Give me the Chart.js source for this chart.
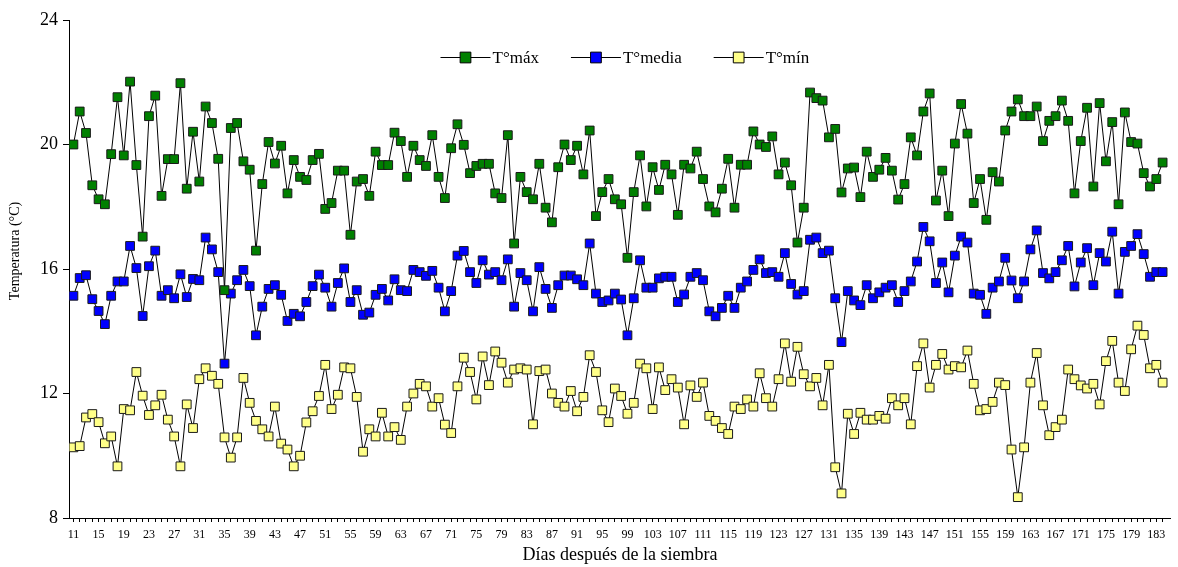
<!DOCTYPE html>
<html>
<head>
<meta charset="utf-8">
<script src="https://cdn.jsdelivr.net/npm/chart.js@4.4.0/dist/chart.umd.min.js"></script>
<style>
  html, body { margin: 0; padding: 0; background: #fff; }
</style>
</head>
<body>
<canvas id="chart" width="1178" height="567"></canvas>
<script>
// días después de la siembra
var days = [
  11, 12, 13, 14, 15, 16, 17, 18, 19, 20,
  21, 22, 23, 24, 25, 26, 27, 28, 29, 30,
  31, 32, 33, 34, 35, 36, 37, 38, 39, 40,
  41, 42, 43, 44, 45, 46, 47, 48, 49, 50,
  51, 52, 53, 54, 55, 56, 57, 58, 59, 60,
  61, 62, 63, 64, 65, 66, 67, 68, 69, 70,
  71, 72, 73, 74, 75, 76, 77, 78, 79, 80,
  81, 82, 83, 84, 85, 86, 87, 88, 89, 90,
  91, 92, 93, 94, 95, 96, 97, 98, 99, 100,
  101, 102, 103, 104, 105, 106, 107, 108, 109, 110,
  111, 112, 113, 114, 115, 116, 117, 118, 119, 120,
  121, 122, 123, 124, 125, 126, 127, 128, 129, 130,
  131, 132, 133, 134, 135, 136, 137, 138, 139, 140,
  141, 142, 143, 144, 145, 146, 147, 148, 149, 150,
  151, 152, 153, 154, 155, 156, 157, 158, 159, 160,
  161, 162, 163, 164, 165, 166, 167, 168, 169, 170,
  171, 172, 173, 174, 175, 176, 177, 178, 179, 180,
  181, 182, 183, 184
];
var xTickLabels = [11, 15, 19, 23, 27, 31, 35, 39, 43, 47, 51, 55, 59, 63, 67, 71, 75, 79, 83, 87, 91, 95,
  99, 103, 107, 111, 115, 119, 123, 127, 131, 135, 139, 143, 147, 151, 155, 159, 163, 167, 171, 175, 179, 183];
var yTicks = [8, 12, 16, 20, 24];

var tMax = [
  20.0, 21.06, 20.37, 18.69, 18.24, 18.08, 19.69, 21.52, 19.65, 22.02,
  19.34, 17.04, 20.91, 21.57, 18.35, 19.53, 19.53, 21.97, 18.58, 20.41,
  18.81, 21.22, 20.69, 19.54, 15.32, 20.53, 20.69, 19.46, 19.19, 16.59,
  18.73, 20.08, 19.39, 19.96, 18.43, 19.50, 18.96, 18.86, 19.50, 19.70,
  17.93, 18.12, 19.16, 19.16, 17.10, 18.81, 18.89, 18.35, 19.77, 19.34,
  19.34, 20.38, 20.11, 18.96, 19.96, 19.50, 19.31, 20.30, 18.96, 18.28,
  19.88, 20.65, 19.99, 19.08, 19.31, 19.38, 19.38, 18.43, 18.28, 20.30,
  16.82, 18.96, 18.47, 18.24, 19.38, 17.97, 17.50, 19.27, 20.00, 19.50,
  19.96, 19.04, 20.45, 17.70, 18.47, 18.89, 18.24, 18.08, 16.36, 18.47,
  19.65, 18.01, 19.27, 18.54, 19.35, 19.04, 17.74, 19.35, 19.23, 19.77,
  18.89, 18.01, 17.82, 18.58, 19.54, 17.97, 19.35, 19.35, 20.42, 20.00,
  19.92, 20.26, 19.04, 19.42, 18.69, 16.85, 17.97, 21.67, 21.49, 21.41,
  20.23, 20.50, 18.46, 19.23, 19.26, 18.31, 19.77, 18.96, 19.19, 19.57,
  19.16, 18.23, 18.73, 20.23, 19.65, 21.06, 21.64, 18.20, 19.16, 17.70,
  20.03, 21.30, 20.35, 18.12, 18.89, 17.58, 19.11, 18.81, 20.45, 21.06,
  21.45, 20.91, 20.91, 21.22, 20.11, 20.76, 20.91, 21.41, 20.76, 18.43,
  20.11, 21.18, 18.65, 21.33, 19.46, 20.72, 18.08, 21.03, 20.08, 20.03,
  19.08, 18.65, 18.89, 19.42
];
var tMedia = [
  15.14, 15.71, 15.80, 15.03, 14.65, 14.23, 15.14, 15.60, 15.60, 16.74,
  16.03, 14.49, 16.09, 16.59, 15.14, 15.32, 15.06, 15.83, 15.10, 15.68,
  15.64, 17.01, 16.63, 15.90, 12.96, 15.21, 15.64, 15.97, 15.45, 13.87,
  14.79, 15.36, 15.48, 15.17, 14.33, 14.56, 14.48, 14.94, 15.45, 15.82,
  15.40, 14.79, 15.55, 16.02, 14.94, 15.32, 14.53, 14.60, 15.17, 15.36,
  14.99, 15.67, 15.32, 15.29, 15.97, 15.90, 15.78, 15.94, 15.40, 14.64,
  15.29, 16.43, 16.58, 15.90, 15.55, 16.28, 15.82, 15.90, 15.64, 16.31,
  14.79, 15.87, 15.64, 14.64, 16.06, 15.36, 14.75, 15.48, 15.79, 15.79,
  15.67, 15.48, 16.82, 15.21, 14.94, 14.99, 15.21, 15.02, 13.87, 15.06,
  16.28, 15.40, 15.40, 15.70, 15.75, 15.75, 14.94, 15.18, 15.75, 15.87,
  15.64, 14.64, 14.48, 14.75, 15.14, 14.75, 15.40, 15.60, 15.97, 16.31,
  15.87, 15.90, 15.75, 16.51, 15.52, 15.18, 15.29, 16.94, 17.01, 16.51,
  16.59, 15.06, 13.65, 15.29, 14.99, 14.84, 15.48, 15.06, 15.25, 15.40,
  15.48, 14.94, 15.29, 15.60, 16.24, 17.35, 16.89, 15.55, 16.21, 15.25,
  16.43, 17.04, 16.85, 15.21, 15.17, 14.56, 15.40, 15.60, 16.36, 15.63,
  15.06, 15.60, 16.63, 17.24, 15.87, 15.70, 15.90, 16.28, 16.74, 15.44,
  16.21, 16.67, 15.48, 16.51, 16.24, 17.20, 15.21, 16.55, 16.74, 17.12,
  16.48, 15.75, 15.90, 15.90
];
var tMin = [
  10.27, 10.31, 11.23, 11.34, 11.08, 10.40, 10.62, 9.66, 11.50, 11.46,
  12.69, 11.93, 11.31, 11.62, 11.96, 11.16, 10.62, 9.66, 11.65, 10.89,
  12.46, 12.81, 12.57, 12.31, 10.59, 9.94, 10.59, 12.50, 11.70, 11.12,
  10.85, 10.62, 11.58, 10.39, 10.20, 9.66, 10.00, 11.07, 11.43, 11.92,
  12.92, 11.50, 11.96, 12.84, 12.81, 11.89, 10.13, 10.85, 10.62, 11.38,
  10.62, 10.92, 10.51, 11.58, 12.00, 12.31, 12.23, 11.58, 11.85, 11.00,
  10.73, 12.23, 13.15, 12.69, 11.81, 13.19, 12.27, 13.35, 12.99, 12.35,
  12.77, 12.81, 12.77, 11.01, 12.72, 12.77, 12.00, 11.70, 11.58, 12.08,
  11.43, 11.89, 13.23, 12.69, 11.46, 11.08, 12.16, 11.92, 11.35, 11.70,
  12.96, 12.81, 11.50, 12.84, 12.11, 12.46, 12.19, 11.01, 12.26, 11.89,
  12.35, 11.28, 11.12, 10.89, 10.70, 11.58, 11.50, 11.81, 11.58, 12.65,
  11.85, 11.58, 12.46, 13.61, 12.38, 13.50, 12.62, 12.23, 12.50, 11.62,
  12.92, 9.63, 8.79, 11.35, 10.70, 11.38, 11.16, 11.16, 11.28, 11.19,
  11.85, 11.62, 11.85, 11.01, 12.88, 13.61, 12.19, 12.92, 13.27, 12.77,
  12.88, 12.84, 13.38, 12.31, 11.46, 11.50, 11.73, 12.35, 12.27, 10.20,
  8.67, 10.27, 12.35, 13.30, 11.62, 10.66, 10.92, 11.16, 12.77, 12.46,
  12.26, 12.16, 12.31, 11.65, 13.04, 13.69, 12.35, 12.08, 13.42, 14.18,
  13.88, 12.81, 12.92, 12.35
];
var seriesNames = ['T°máx', 'T°media', 'T°mín'];
var seriesColors = ['#008000', '#0000ff', '#ffff88'];

var serif = '"Liberation Serif", "Times New Roman", serif';

function toPoints(values) {
  return days.map(function (d, i) { return { x: d, y: values[i] }; });
}

// leyenda dentro del área del gráfico (línea - marcador - texto)
var insideLegend = {
  id: 'insideLegend',
  afterDraw(chart) {
    var ctx = chart.ctx;
    var area = chart.chartArea;
    ctx.save();
    ctx.font = '17px ' + serif;
    var lineLen = 50, gapText = 2, gapItem = 32;
    var widths = chart.data.datasets.map(function (ds) {
      return lineLen + gapText + ctx.measureText(ds.label).width;
    });
    var total = widths.reduce(function (a, b) { return a + b; }, 0) + gapItem * (widths.length - 1);
    var x = (area.left + area.right) / 2 + 5 - total / 2;
    var y = area.top + 37;
    chart.data.datasets.forEach(function (ds, i) {
      ctx.strokeStyle = '#000';
      ctx.lineWidth = 1;
      ctx.beginPath();
      ctx.moveTo(x, y + 0.5);
      ctx.lineTo(x + lineLen, y + 0.5);
      ctx.stroke();
      ctx.fillStyle = ds.pointBackgroundColor;
      ctx.strokeStyle = '#000';
      Chart.helpers.drawPoint(ctx, { pointStyle: 'rect', radius: 7.6, borderWidth: 1 }, x + lineLen / 2, y + 0.5);
      ctx.fillStyle = '#000';
      ctx.textAlign = 'left';
      ctx.textBaseline = 'middle';
      ctx.fillText(ds.label, x + lineLen + gapText, y + 2);
      x += widths[i] + gapItem;
    });
    ctx.restore();
  }
};

// título del eje Y (algo por encima del centro, como en el original)
var yTitle = {
  id: 'yTitle',
  afterDraw(chart) {
    var ctx = chart.ctx;
    var area = chart.chartArea;
    ctx.save();
    ctx.translate(15, area.top + 231);
    ctx.rotate(-Math.PI / 2);
    ctx.font = '14px ' + serif;
    ctx.fillStyle = '#000';
    ctx.textAlign = 'center';
    ctx.textBaseline = 'middle';
    ctx.fillText('Temperatura (°C)', 0, 0);
    ctx.restore();
  }
};

var series = [tMax, tMedia, tMin];
var datasets = series.map(function (vals, i) {
  return {
    label: seriesNames[i],
    data: toPoints(vals),
    borderColor: '#000',
    borderWidth: 1,
    pointStyle: 'rect',
    pointRadius: 6.2,
    pointBackgroundColor: seriesColors[i],
    pointBorderColor: '#1a1a1a',
    pointBorderWidth: 1,
    tension: 0
  };
});

new Chart(document.getElementById('chart'), {
  type: 'line',
  data: { datasets: datasets },
  options: {
    responsive: false,
    animation: false,
    layout: { padding: { top: 20, right: 2, left: 0, bottom: 0 } },
    plugins: {
      legend: { display: false },
      tooltip: { enabled: false }
    },
    scales: {
      x: {
        type: 'linear',
        min: 10.3,
        max: 185.3,
        afterBuildTicks: function (scale) {
          scale.ticks = days.map(function (d) { return { value: d }; });
        },
        afterFit: function (scale) { scale.height = 49; },
        grid: { drawOnChartArea: false, tickLength: 4, color: '#000', lineWidth: 1 },
        border: { color: '#000', width: 1 },
        ticks: {
          autoSkip: false,
          maxRotation: 0,
          padding: 6,
          color: '#000',
          font: { family: serif, size: 12 },
          callback: function (v) { return xTickLabels.indexOf(v) >= 0 ? String(v) : ''; }
        },
        title: {
          display: true,
          text: 'Días después de la siembra',
          color: '#000',
          font: { family: serif, size: 18 },
          padding: { top: 0, bottom: 1 }
        }
      },
      y: {
        min: 8,
        max: 24,
        afterBuildTicks: function (scale) {
          scale.ticks = yTicks.map(function (v) { return { value: v }; });
        },
        afterFit: function (scale) { scale.width = 69; },
        grid: { drawOnChartArea: false, tickLength: 6, color: '#000', lineWidth: 1 },
        border: { color: '#000', width: 1 },
        ticks: {
          padding: 5,
          color: '#000',
          font: { family: serif, size: 18 }
        },
        title: { display: false }
      }
    }
  },
  plugins: [insideLegend, yTitle]
});
</script>
</body>
</html>
